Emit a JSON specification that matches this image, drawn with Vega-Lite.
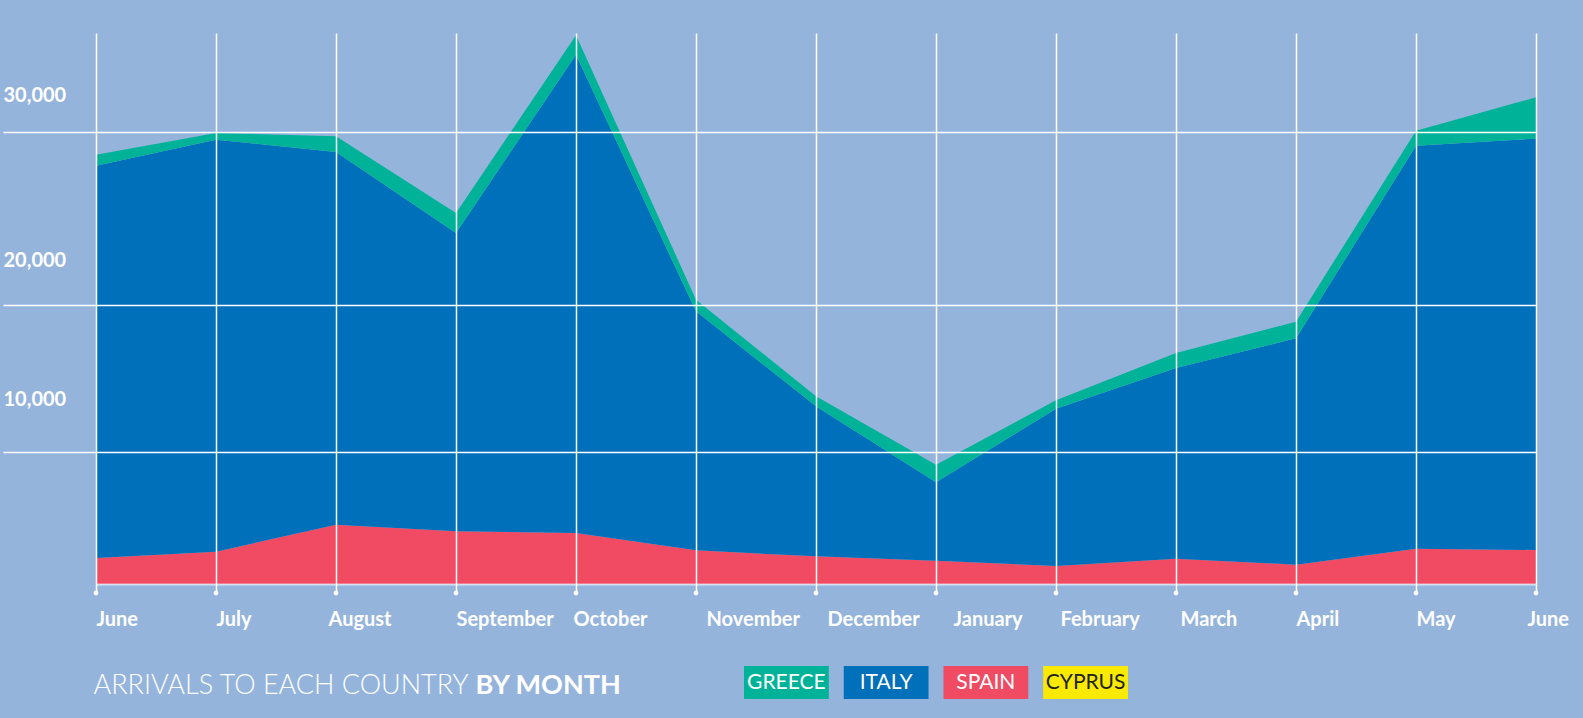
{
  "$schema": "https://vega.github.io/schema/vega-lite/v6.json",
  "autosize": {"type": "pad"},
  "padding": {"left": 2, "top": 33, "right": 16, "bottom": 19},
  "background": "#95b4dc",
  "config": {"view": {"stroke": null}, "font": "Lato"},
  "bounds": "flush",
  "spacing": 82,
  "datasets": {
    "arrivals": [
      {"month": "June 2016", "country": "SPAIN", "arrivals": 1560},
      {"month": "June 2016", "country": "ITALY", "arrivals": 23540},
      {"month": "June 2016", "country": "GREECE", "arrivals": 660},
      {"month": "June 2016", "country": "CYPRUS", "arrivals": 0},
      {"month": "July 2016", "country": "SPAIN", "arrivals": 1940},
      {"month": "July 2016", "country": "ITALY", "arrivals": 24720},
      {"month": "July 2016", "country": "GREECE", "arrivals": 400},
      {"month": "July 2016", "country": "CYPRUS", "arrivals": 0},
      {"month": "August 2016", "country": "SPAIN", "arrivals": 3560},
      {"month": "August 2016", "country": "ITALY", "arrivals": 22360},
      {"month": "August 2016", "country": "GREECE", "arrivals": 940},
      {"month": "August 2016", "country": "CYPRUS", "arrivals": 0},
      {"month": "September 2016", "country": "SPAIN", "arrivals": 3160},
      {"month": "September 2016", "country": "ITALY", "arrivals": 17900},
      {"month": "September 2016", "country": "GREECE", "arrivals": 1200},
      {"month": "September 2016", "country": "CYPRUS", "arrivals": 0},
      {"month": "October 2016", "country": "SPAIN", "arrivals": 3060},
      {"month": "October 2016", "country": "ITALY", "arrivals": 28700},
      {"month": "October 2016", "country": "GREECE", "arrivals": 1170},
      {"month": "October 2016", "country": "CYPRUS", "arrivals": 0},
      {"month": "November 2016", "country": "SPAIN", "arrivals": 2020},
      {"month": "November 2016", "country": "ITALY", "arrivals": 14340},
      {"month": "November 2016", "country": "GREECE", "arrivals": 700},
      {"month": "November 2016", "country": "CYPRUS", "arrivals": 0},
      {"month": "December 2016", "country": "SPAIN", "arrivals": 1660},
      {"month": "December 2016", "country": "ITALY", "arrivals": 9000},
      {"month": "December 2016", "country": "GREECE", "arrivals": 600},
      {"month": "December 2016", "country": "CYPRUS", "arrivals": 0},
      {"month": "January 2017", "country": "SPAIN", "arrivals": 1400},
      {"month": "January 2017", "country": "ITALY", "arrivals": 4700},
      {"month": "January 2017", "country": "GREECE", "arrivals": 1060},
      {"month": "January 2017", "country": "CYPRUS", "arrivals": 0},
      {"month": "February 2017", "country": "SPAIN", "arrivals": 1080},
      {"month": "February 2017", "country": "ITALY", "arrivals": 9440},
      {"month": "February 2017", "country": "GREECE", "arrivals": 500},
      {"month": "February 2017", "country": "CYPRUS", "arrivals": 0},
      {"month": "March 2017", "country": "SPAIN", "arrivals": 1520},
      {"month": "March 2017", "country": "ITALY", "arrivals": 11440},
      {"month": "March 2017", "country": "GREECE", "arrivals": 900},
      {"month": "March 2017", "country": "CYPRUS", "arrivals": 0},
      {"month": "April 2017", "country": "SPAIN", "arrivals": 1160},
      {"month": "April 2017", "country": "ITALY", "arrivals": 13580},
      {"month": "April 2017", "country": "GREECE", "arrivals": 1000},
      {"month": "April 2017", "country": "CYPRUS", "arrivals": 0},
      {"month": "May 2017", "country": "SPAIN", "arrivals": 2120},
      {"month": "May 2017", "country": "ITALY", "arrivals": 24180},
      {"month": "May 2017", "country": "GREECE", "arrivals": 900},
      {"month": "May 2017", "country": "CYPRUS", "arrivals": 0},
      {"month": "June 2017", "country": "SPAIN", "arrivals": 2040},
      {"month": "June 2017", "country": "ITALY", "arrivals": 24680},
      {"month": "June 2017", "country": "GREECE", "arrivals": 2480},
      {"month": "June 2017", "country": "CYPRUS", "arrivals": 0}
    ],
    "countries": [
      {"country": "GREECE"},
      {"country": "ITALY"},
      {"country": "SPAIN"},
      {"country": "CYPRUS"}
    ]
  },
  "vconcat": [
    {
      "width": 1440,
      "height": 551,
      "data": {"name": "arrivals"},
      "resolve": {"axis": {"y": "independent"}},
      "encoding": {
        "x": {
          "field": "month",
          "type": "ordinal",
          "sort": null,
          "scale": {"type": "point", "padding": 0},
          "axis": {
            "title": "ARRIVALS TO EACH COUNTRY",
            "titleX": -3,
            "titleY": 109,
            "titleAnchor": "start",
            "titleAlign": "left",
            "titleBaseline": "alphabetic",
            "titleFont": "Lato",
            "titleFontSize": 27,
            "titleFontWeight": 300,
            "titleColor": "#ffffff",
            "zindex": 1,
            "grid": true,
            "gridColor": "#ffffff",
            "gridWidth": 1.5,
            "gridOpacity": 1,
            "domain": true,
            "domainColor": "#ffffff",
            "domainOpacity": 0.6,
            "domainWidth": 2,
            "ticks": true,
            "tickSize": 9,
            "tickColor": "#ffffff",
            "tickWidth": 1.5,
            "labelAngle": 0,
            "labelAlign": "left",
            "labelBaseline": "top",
            "labelPadding": 16,
            "labelFont": "Lato",
            "labelFontSize": 20,
            "labelFontWeight": "bold",
            "labelColor": "#ffffff",
            "labelOverlap": false,
            "labelBound": false,
            "labelFlush": false,
            "labelExpr": "split(datum.label, ' ')[0]",
            "labelOffset": {
              "condition": [
                {"test": "datum.value === 'August 2016'", "value": -8},
                {"test": "datum.value === 'October 2016'", "value": -3},
                {"test": "datum.value === 'November 2016'", "value": 10},
                {"test": "datum.value === 'December 2016'", "value": 11},
                {"test": "datum.value === 'January 2017'", "value": 17},
                {"test": "datum.value === 'February 2017'", "value": 4},
                {"test": "datum.value === 'March 2017'", "value": 4},
                {"test": "datum.value === 'June 2017'", "value": -9}
              ],
              "value": 0
            }
          }
        }
      },
      "layer": [
        {
          "mark": {"type": "area", "interpolate": "linear"},
          "encoding": {
            "y": {
              "field": "arrivals",
              "type": "quantitative",
              "stack": "zero",
              "scale": {"domain": [0, 33060], "nice": false, "zero": true},
              "axis": {
                "title": null,
                "zindex": 1,
                "values": [7940, 16740, 27100],
                "grid": true,
                "gridColor": "#ffffff",
                "gridWidth": 1.5,
                "gridOpacity": 1,
                "domain": false,
                "ticks": true,
                "tickSize": 93,
                "tickColor": "#ffffff",
                "tickWidth": 1.5,
                "labels": false
              }
            },
            "color": {
              "field": "country",
              "type": "nominal",
              "scale": {
                "domain": ["GREECE", "ITALY", "SPAIN", "CYPRUS"],
                "range": ["#00b398", "#0070ba", "#f04b62", "#f9ea00"]
              },
              "legend": null
            },
            "order": {"field": "country", "sort": "descending"}
          }
        },
        {
          "transform": [{"filter": "datum.country === 'SPAIN'"}],
          "mark": {"type": "circle", "yOffset": 9, "size": 24, "color": "#ffffff", "opacity": 1},
          "encoding": {
            "y": {
              "datum": 0,
              "type": "quantitative",
              "axis": {
                "orient": "left",
                "title": null,
                "zindex": 1,
                "values": [11070, 19440, 29340],
                "grid": false,
                "domain": false,
                "ticks": true,
                "tickSize": 93,
                "tickOpacity": 0,
                "labelAlign": "left",
                "labelBaseline": "middle",
                "labelPadding": 0,
                "labelFont": "Lato",
                "labelFontSize": 20,
                "labelFontWeight": "bold",
                "labelColor": "#ffffff",
                "labelOverlap": false,
                "labelBound": false,
                "labelFlush": false,
                "labelExpr": "datum.value < 15000 ? '10,000' : datum.value < 25000 ? '20,000' : '30,000'"
              }
            }
          }
        }
      ]
    },
    {
      "width": 1440,
      "height": 33,
      "data": {"name": "countries"},
      "encoding": {
        "x": {
          "field": "country",
          "type": "nominal",
          "sort": null,
          "scale": {"type": "band", "range": [648, 1032], "paddingInner": 0.15, "paddingOuter": 0},
          "axis": {
            "title": "BY MONTH",
            "labels": false,
            "ticks": false,
            "domain": false,
            "grid": false,
            "titleX": 379,
            "titleY": -6,
            "titleAlign": "left",
            "titleAnchor": "start",
            "titleBaseline": "alphabetic",
            "titleFont": "Lato",
            "titleFontSize": 27,
            "titleFontWeight": "bold",
            "titleColor": "#ffffff",
            "titlePadding": 0
          }
        }
      },
      "layer": [
        {
          "mark": {"type": "bar"},
          "encoding": {
            "color": {
              "field": "country",
              "type": "nominal",
              "scale": {
                "domain": ["GREECE", "ITALY", "SPAIN", "CYPRUS"],
                "range": ["#00b398", "#0070ba", "#f04b62", "#f9ea00"]
              },
              "legend": null
            }
          }
        },
        {
          "mark": {"type": "text", "font": "Lato", "fontSize": 21, "baseline": "middle", "align": "center"},
          "encoding": {
            "text": {"field": "country"},
            "color": {
              "condition": {"test": "datum.country === 'CYPRUS'", "value": "#222222"},
              "value": "#ffffff"
            }
          }
        }
      ]
    }
  ]
}
